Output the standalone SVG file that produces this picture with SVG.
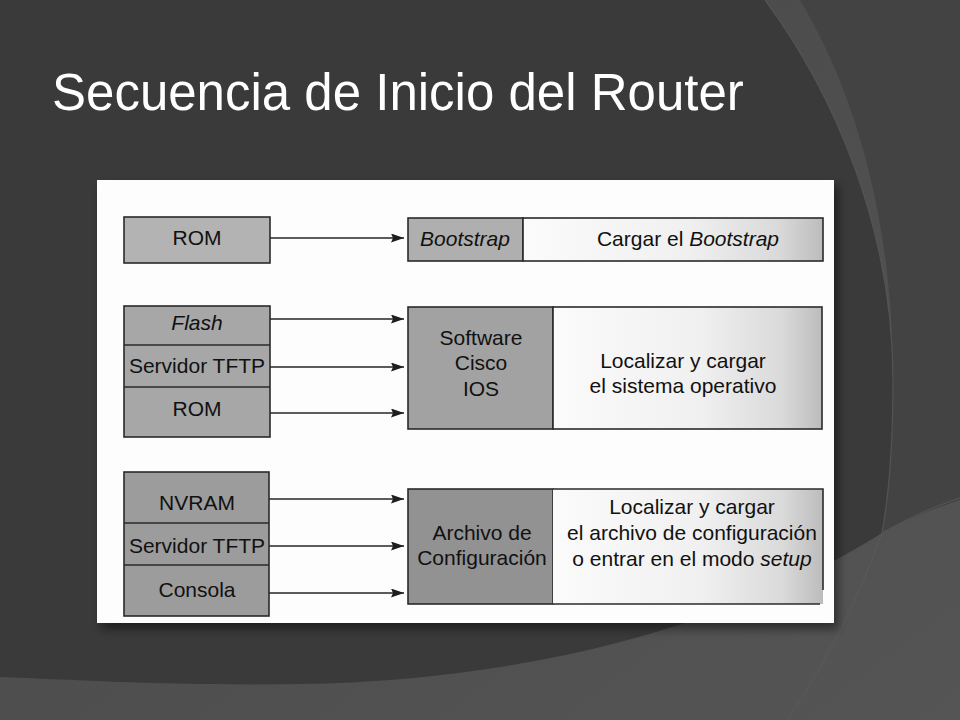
<svg xmlns="http://www.w3.org/2000/svg" width="960" height="720" viewBox="0 0 960 720">
  <defs>
    <style>
      .lbl { font-family: "Liberation Sans", Arial, sans-serif; font-size: 21px; fill: #111111; text-anchor: middle; }
      .it { font-style: italic; }
      .box { stroke: #2a2a2a; stroke-width: 1.6; }
      .div { stroke: #2a2a2a; stroke-width: 1.6; fill: none; }
      .conn { stroke: #262626; stroke-width: 1.6; fill: none; marker-end: url(#arr); }
    </style>
    <marker id="arr" viewBox="0 0 13 9" refX="13" refY="4.5" markerUnits="userSpaceOnUse" markerWidth="13" markerHeight="9" orient="auto">
      <path d="M0,0 L13,4.5 L0,9 L2,4.5 Z" fill="#1e1e1e"/>
    </marker>
    <linearGradient id="paper" x1="0" y1="0" x2="1" y2="0">
      <stop offset="0" stop-color="#fbfbfb"/>
      <stop offset="0.55" stop-color="#f0f0f0"/>
      <stop offset="0.85" stop-color="#dadada"/>
      <stop offset="1" stop-color="#bcbcbc"/>
    </linearGradient>
    <linearGradient id="bg" x1="0" y1="0" x2="1" y2="1">
      <stop offset="0" stop-color="#474747"/>
      <stop offset="1" stop-color="#555555"/>
    </linearGradient>
    <filter id="shadow" x="-10%" y="-10%" width="120%" height="125%">
      <feGaussianBlur stdDeviation="5"/>
    </filter>
  </defs>

  <!-- background -->
  <rect x="0" y="0" width="960" height="720" fill="url(#bg)"/>
  <path d="M893,0 H960 V500 C930,510 905,520 882,533 C888,480 893,430 893,380 C893,230 860,100 800,0 Z" fill="#434343"/>
  <path d="M0,0 H765 C835,95 893,230 893,380 C893,450 888,500 882,533 C760,610 560,680 300,684 C180,686 80,680 0,677 Z" fill="#3a3a3a"/>
  <path d="M765,0 C835,95 893,230 893,380 C893,450 888,500 882,533" fill="none" stroke="#545454" stroke-width="1.2"/>
  <path d="M960,498 C930,508 905,520 882,533" fill="none" stroke="#575757" stroke-width="1"/>
  <path d="M882,533 C858,600 825,665 787,720" fill="none" stroke="#5a5a5a" stroke-width="1"/>

  <!-- title -->
  <text x="52" y="110" font-family="'Liberation Sans', Arial, sans-serif" font-size="51" fill="#ffffff">Secuencia de Inicio del Router</text>

  <!-- scanned figure sheet -->
  <rect x="101" y="186" width="737" height="443" fill="#000" opacity="0.45" filter="url(#shadow)"/>
  <rect x="97" y="180" width="737" height="443" fill="#fdfdfd"/>

  <!-- row 1 -->
  <g id="rom1">
    <rect class="box" x="124" y="217" width="146" height="46" fill="#b3b3b3"/>
    <text class="lbl" x="197" y="245">ROM</text>
  </g>
  <g id="bootstrap">
    <rect class="box" x="408" y="218" width="115" height="43" fill="#afafaf"/>
    <text class="lbl it" x="465" y="246">Bootstrap</text>
  </g>
  <g id="cargar-bootstrap">
    <rect class="box" x="523" y="218" width="300" height="43" fill="url(#paper)"/>
    <text class="lbl" x="688" y="246">Cargar el <tspan class="it">Bootstrap</tspan></text>
  </g>

  <!-- row 2 -->
  <g id="sources-ios">
    <rect class="box" x="124" y="306" width="146" height="131" fill="#a7a7a7"/>
    <line class="div" x1="124" y1="345" x2="270" y2="345"/>
    <line class="div" x1="124" y1="387" x2="270" y2="387"/>
    <text class="lbl it" x="197" y="330">Flash</text>
    <text class="lbl" x="197" y="373">Servidor TFTP</text>
    <text class="lbl" x="197" y="416">ROM</text>
  </g>
  <g id="ios">
    <rect class="box" x="408" y="307" width="145" height="122" fill="#a2a2a2"/>
    <text class="lbl" x="481" y="345">Software</text>
    <text class="lbl" x="481" y="370">Cisco</text>
    <text class="lbl" x="481" y="396">IOS</text>
  </g>
  <g id="cargar-so">
    <rect class="box" x="553" y="307" width="269" height="122" fill="url(#paper)"/>
    <text class="lbl" x="683" y="368">Localizar y cargar</text>
    <text class="lbl" x="683" y="393">el sistema operativo</text>
  </g>

  <!-- row 3 -->
  <g id="sources-config">
    <rect class="box" x="124" y="472" width="145" height="144" fill="#9c9c9c"/>
    <line class="div" x1="124" y1="523" x2="269" y2="523"/>
    <line class="div" x1="124" y1="565" x2="269" y2="565"/>
    <text class="lbl" x="197" y="510">NVRAM</text>
    <text class="lbl" x="197" y="553">Servidor TFTP</text>
    <text class="lbl" x="197" y="597">Consola</text>
  </g>
  <g id="config">
    <rect class="box" x="408" y="489" width="145" height="115" fill="#929292"/>
    <text class="lbl" x="482" y="540">Archivo de</text>
    <text class="lbl" x="482" y="565">Configuración</text>
  </g>
  <g id="cargar-config">
    <rect x="553" y="489" width="270" height="115" fill="url(#paper)"/>
    <path class="div" d="M553,489 H823 V590"/>
    <path class="div" d="M553,604 H820"/>
    <text class="lbl" x="692" y="514">Localizar y cargar</text>
    <text class="lbl" x="692" y="540">el archivo de configuración</text>
    <text class="lbl" x="692" y="566">o entrar en el modo <tspan class="it">setup</tspan></text>
  </g>

  <!-- connectors -->
  <g id="connectors">
    <line class="conn" x1="270" y1="238" x2="404" y2="238"/>
    <line class="conn" x1="270" y1="319" x2="404" y2="319"/>
    <line class="conn" x1="270" y1="367" x2="404" y2="367"/>
    <line class="conn" x1="270" y1="413" x2="404" y2="413"/>
    <line class="conn" x1="269" y1="499" x2="404" y2="499"/>
    <line class="conn" x1="269" y1="546" x2="404" y2="546"/>
    <line class="conn" x1="269" y1="593" x2="404" y2="593"/>
  </g>
</svg>
